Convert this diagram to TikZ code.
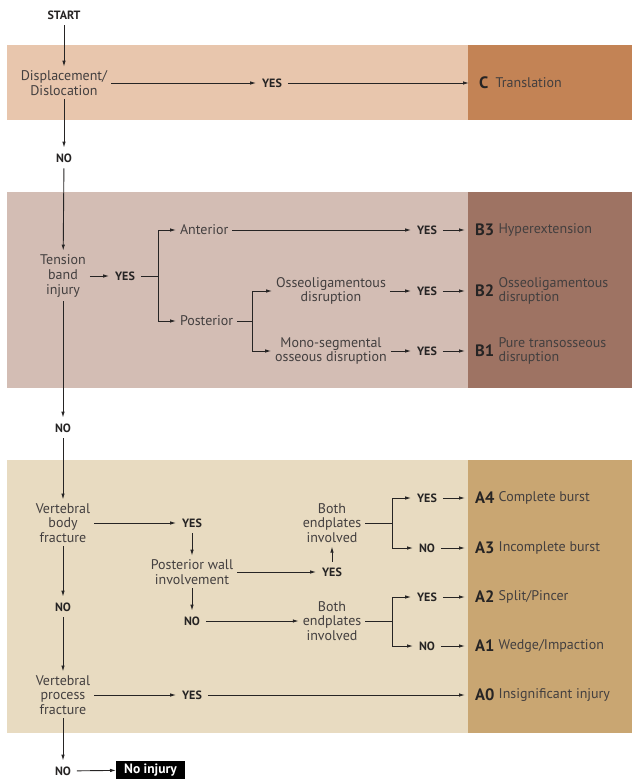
\documentclass[tikz,border=0pt]{standalone}
\usepackage{fontspec}
\setmainfont{PT Sans}
\usepackage{tikz}
\usetikzlibrary{arrows.meta,positioning}

\definecolor{ink}{HTML}{262424}
\definecolor{txtgray}{HTML}{433F3F}
\definecolor{bandC}{HTML}{E8C6AD}
\definecolor{bandCd}{HTML}{C38355}
\definecolor{bandB}{HTML}{D3BDB4}
\definecolor{bandBd}{HTML}{9E7363}
\definecolor{bandA}{HTML}{E8DBC1}
\definecolor{bandAd}{HTML}{C9A672}

\tikzset{
  txt/.style    = {font=\fontsize{14}{14.5}\selectfont, text=txtgray, align=center, inner sep=2pt, outer sep=2pt},
  ans/.style    = {font=\fontsize{12}{12}\selectfont\bfseries, text=ink, inner sep=3pt, outer sep=3pt},
  code/.style   = {font=\fontsize{16.5}{16.5}\selectfont\bfseries, text=ink, inner sep=1pt, anchor=west},
  desc/.style   = {txt, align=left, anchor=west, inner sep=1pt, outer sep=0pt},
  ln/.style     = {draw=ink, line width=0.9pt},
  arr/.style    = {ln, -{Latex[length=6pt,width=3.5pt]}},
  tocls/.style  = {arr, shorten >=9pt}
}

\begin{document}
\begin{tikzpicture}[x=1pt, y=-1pt]
        \useasboundingbox (0,0) rectangle (632,779);

        \fill [bandC]   (7,45)    rectangle (468,120);
        \fill [bandCd]  (468,45)  rectangle (632,120);
        \fill [bandB]   (7,192)   rectangle (468,388);
        \fill [bandBd]  (468,192) rectangle (632,388);
        \fill [bandA]   (7,460)   rectangle (468,733);
        \fill [bandAd]  (468,460) rectangle (632,733);

        % C
        \node [ans]  (start) at (64,15)   {START};
        \node [txt]  (disp)  at (64,83)   {Displacement/\\Dislocation};
        \node [ans]  (yesC)  at (272,83)  {YES};
        \node [code] (c)     at (478,83)  {C};
        \node [desc, right=5pt of c] (cT) {Translation};
        \node [ans]  (noC)   at (64,158)  {NO};

        % B
        \node [txt, font=\fontsize{14}{15}\selectfont] (tens) at (63,276) {Tension\\band\\injury};
        \node [ans]  (yesT)  at (125,276) {YES};
        \coordinate  (forkT) at (158,276);
        \node [txt, anchor=west] (ant)  at (176,230) {Anterior};
        \node [txt, anchor=west] (post) at (176,321) {Posterior};
        \coordinate  (forkP) at (252,321);
        \node [txt]  (osl)   at (331,291) {Osseoligamentous\\disruption};
        \node [txt]  (mono)  at (331,351) {Mono-segmental\\osseous disruption};
        \node [ans]  (yesB3) at (427,230) {YES};
        \node [ans]  (yesB2) at (427,291) {YES};
        \node [ans]  (yesB1) at (427,351) {YES};
        \node [code] (b3)    at (474,230) {B3};
        \node [desc, right=2pt of b3] (b3T) {Hyperextension};
        \node [code] (b2)    at (474,291) {B2};
        \node [desc, right=2pt of b2] (b2T) {Osseoligamentous\\disruption};
        \node [code] (b1)    at (474,351) {B1};
        \node [desc, right=2pt of b1] (b1T) {Pure transosseous\\disruption};
        \node [ans]  (noT)   at (63,428)  {NO};

        % A
        \node [txt]  (vbf)   at (63,523)  {Vertebral\\body\\fracture};
        \node [ans]  (yesV)  at (192,523) {YES};
        \node [txt]  (pwi)   at (192,572) {Posterior wall\\involvement};
        \node [ans]  (yesP)  at (332,572) {YES};
        \node [txt]  (bep1)  at (332,523) {Both\\endplates\\involved};
        \coordinate  (forkE1) at (392,523);
        \node [ans]  (yesA4) at (427,498) {YES};
        \node [ans]  (noA3)  at (427,548) {NO};
        \node [code] (a4)    at (474,498) {A4};
        \node [desc, right=2pt of a4] (a4T) {Complete burst};
        \node [code] (a3)    at (474,548) {A3};
        \node [desc, right=2pt of a3] (a3T) {Incomplete burst};
        \node [ans]  (noP)   at (192,621) {NO};
        \node [txt]  (bep2)  at (332,621) {Both\\endplates\\involved};
        \coordinate  (forkE2) at (392,621);
        \node [ans]  (yesA2) at (427,597) {YES};
        \node [ans]  (noA1)  at (427,646) {NO};
        \node [code] (a2)    at (474,597) {A2};
        \node [desc, right=2pt of a2] (a2T) {Split/Pincer};
        \node [code] (a1)    at (474,646) {A1};
        \node [desc, right=2pt of a1] (a1T) {Wedge/Impaction};
        \node [ans]  (noV)   at (63,607)  {NO};
        \node [txt]  (vpf)   at (63,695)  {Vertebral\\process\\fracture};
        \node [ans]  (yesVP) at (192,695) {YES};
        \node [code] (a0)    at (474,695) {A0};
        \node [desc, right=2pt of a0] (a0T) {Insignificant injury};
        \node [ans]  (noVP)  at (63,771)  {NO};
        \node [ans, font=\fontsize{13.5}{13.5}\selectfont\bfseries, fill=black, text=white, anchor=west,
               minimum width=69pt, minimum height=19pt, inner sep=3pt, outer sep=0pt] (none) at (116,770) {No injury};

        \draw [arr]   (start) -- (disp);
        \draw [arr]   (disp)  -- (yesC);
        \draw [tocls] (yesC)  -- (c);
        \draw [arr]   (disp)  -- (noC);
        \draw [arr]   (noC)   -- (tens);

        \draw [arr]   (tens)  -- (yesT);
        \draw [ln]    (yesT)  -- (forkT);
        \draw [arr]   (forkT) |- (ant);
        \draw [arr]   (forkT) |- (post);
        \draw [ln]    (post)  -- (forkP);
        \draw [arr]   (forkP) |- (osl);
        \draw [arr]   (forkP) |- (mono);
        \draw [arr]   (ant)   -- (yesB3);
        \draw [arr]   (osl)   -- (yesB2);
        \draw [arr]   (mono)  -- (yesB1);
        \draw [tocls] (yesB3) -- (b3);
        \draw [tocls] (yesB2) -- (b2);
        \draw [tocls] (yesB1) -- (b1);
        \draw [arr]   (tens)  -- (noT);
        \draw [arr]   (noT)   -- (vbf);

        \draw [arr]   (vbf)   -- (yesV);
        \draw [arr]   (yesV)  -- (pwi);
        \draw [arr]   (pwi)   -- (yesP);
        \draw [arr]   (yesP)  -- (bep1);
        \draw [ln]    (bep1)  -- (forkE1);
        \draw [arr]   (forkE1) |- (yesA4);
        \draw [arr]   (forkE1) |- (noA3);
        \draw [tocls] (yesA4) -- (a4);
        \draw [tocls] (noA3)  -- (a3);
        \draw [arr]   (pwi)   -- (noP);
        \draw [arr]   (noP)   -- (bep2);
        \draw [ln]    (bep2)  -- (forkE2);
        \draw [arr]   (forkE2) |- (yesA2);
        \draw [arr]   (forkE2) |- (noA1);
        \draw [tocls] (yesA2) -- (a2);
        \draw [tocls] (noA1)  -- (a1);
        \draw [arr]   (vbf)   -- (noV);
        \draw [arr]   (noV)   -- (vpf);
        \draw [arr]   (vpf)   -- (yesVP);
        \draw [tocls] (yesVP) -- (a0);
        \draw [arr]   (vpf)   -- (noVP);
        \draw [arr]   (noVP)  -- (none);
\end{tikzpicture}
\end{document}
